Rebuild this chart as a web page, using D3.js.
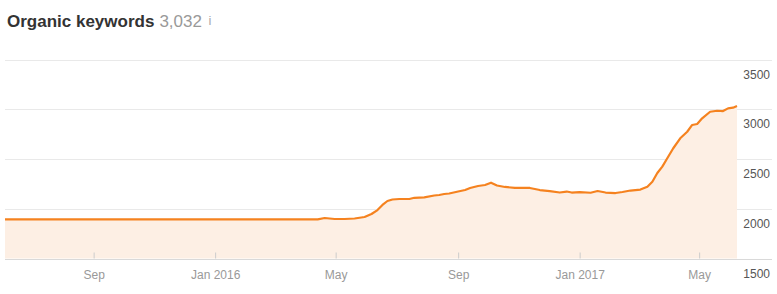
<!DOCTYPE html>
<html>
<head>
<meta charset="utf-8">
<script src="https://cdn.jsdelivr.net/npm/d3@7"></script>
<style>
  body { margin: 0; background: #fff; }
  svg { display: block; font-family: "Liberation Sans", Arial, sans-serif; }
</style>
</head>
<body>
<div class="kw_plot"></div>
<script>
// organic keywords
const dates = [
  '2015-06-04', '2016-04-13', '2016-04-20', '2016-04-30', '2016-05-10', '2016-05-20',
  '2016-05-30', '2016-06-06', '2016-06-12', '2016-06-17', '2016-06-22', '2016-06-27',
  '2016-07-04', '2016-07-14', '2016-07-19', '2016-07-29', '2016-08-08', '2016-08-13',
  '2016-08-18', '2016-08-23', '2016-09-01', '2016-09-08', '2016-09-13', '2016-09-21',
  '2016-09-28', '2016-10-04', '2016-10-10', '2016-10-18', '2016-10-28', '2016-11-12',
  '2016-11-22', '2016-12-02', '2016-12-12', '2016-12-19', '2016-12-24', '2017-01-01',
  '2017-01-12', '2017-01-19', '2017-01-27', '2017-02-06', '2017-02-13', '2017-02-21',
  '2017-03-03', '2017-03-10', '2017-03-15', '2017-03-20', '2017-03-25', '2017-03-30',
  '2017-04-05', '2017-04-12', '2017-04-19', '2017-04-24', '2017-04-29', '2017-05-04',
  '2017-05-12', '2017-05-19', '2017-05-25', '2017-05-30', '2017-06-04', '2017-06-08'
];
const keywords = [
  1894, 1894, 1907, 1897, 1897, 1902,
  1917, 1947, 1987, 2038, 2078, 2093,
  2098, 2098, 2110, 2115, 2133, 2138,
  2148, 2153, 2173, 2188, 2208, 2229,
  2239, 2262, 2234, 2219, 2209, 2209,
  2188, 2178, 2163, 2173, 2163, 2168,
  2161, 2178, 2163, 2158, 2168, 2183,
  2193, 2222, 2272, 2359, 2423, 2507,
  2608, 2708, 2774, 2842, 2852, 2909,
  2975, 2985, 2982, 3009, 3016, 3032
];
const yTicks = [1500, 2000, 2500, 3000, 3500];
const xTicks = ['2015-09-01', '2016-01-01', '2016-05-01', '2016-09-01', '2017-01-01', '2017-05-01'];
const title = 'Organic keywords';
const total = '3,032';

const parse = d3.timeParse('%Y-%m-%d');
const data = dates.map((d, i) => ({date: parse(d), value: keywords[i]}));

const width = 777, height = 294;
const margin = {top: 59.5, right: 40, bottom: 35.5, left: 5};

const svg = d3.select('.kw_plot')
              .append('svg')
              .attr('width', width)
              .attr('height', height);

const xScale = d3.scaleTime()
                 .domain(d3.extent(data, d => d.date))
                 .range([margin.left, 737]);

const yScale = d3.scaleLinear()
                 .domain([1500, 3500])
                 .range([height - margin.bottom, margin.top]);

// title
const t = svg.append('text')
   .attr('x', 7)
   .attr('y', 27)
   .attr('font-size', 17);
t.append('tspan').attr('font-weight', 'bold').attr('fill', '#333').text(title);
t.append('tspan').attr('dx', 5).attr('fill', '#999').text(total);
svg.append('text')
   .attr('x', 208.5)
   .attr('y', 25)
   .attr('font-size', 13)
   .attr('fill', '#aaa')
   .text('i');

// grid
svg.append('g')
   .selectAll('line')
   .data(yTicks)
   .enter()
   .append('line')
   .attr('x1', margin.left)
   .attr('x2', 772)
   .attr('y1', d => Math.round(yScale(d)) + 0.5)
   .attr('y2', d => Math.round(yScale(d)) + 0.5)
   .attr('stroke', d => d === 1500 ? '#d9d9d9' : '#e9e9e9')
   .attr('stroke-width', 1);

// area + line
const area = d3.area()
               .x(d => xScale(d.date))
               .y0(yScale(1500))
               .y1(d => yScale(d.value));
const line = d3.line()
               .x(d => xScale(d.date))
               .y(d => yScale(d.value));

svg.append('path')
   .datum(data)
   .attr('d', area)
   .attr('fill', '#fdefe4');

svg.append('path')
   .datum(data)
   .attr('d', line)
   .attr('fill', 'none')
   .attr('stroke', '#f5821f')
   .attr('stroke-width', 2.2)
   .attr('stroke-linejoin', 'round');

// y labels on the right
svg.append('g')
   .selectAll('text')
   .data(yTicks)
   .enter()
   .append('text')
   .attr('x', 770)
   .attr('y', d => yScale(d) + 19)
   .attr('text-anchor', 'end')
   .attr('font-size', 12)
   .attr('fill', '#555')
   .text(d => d);

// x axis
const xAxis = d3.axisBottom()
                .scale(xScale)
                .tickValues(xTicks.map(parse))
                .tickSize(0)
                .tickPadding(12)
                .tickFormat(d => d.getMonth() === 0 ? d3.timeFormat('%b %Y')(d) : d3.timeFormat('%b')(d));

const gx = svg.append('g')
              .attr('class', 'axis x-axis')
              .attr('transform', `translate(0, ${yScale(1500)})`)
              .call(xAxis);
gx.select('.domain').remove();
gx.selectAll('text')
  .attr('font-size', 12)
  .attr('font-family', '"Liberation Sans", Arial, sans-serif')
  .attr('fill', '#999');
gx.selectAll('.tick')
  .append('line')
  .attr('y1', -6)
  .attr('y2', 0)
  .attr('stroke', '#ccc');
</script>
</body>
</html>
